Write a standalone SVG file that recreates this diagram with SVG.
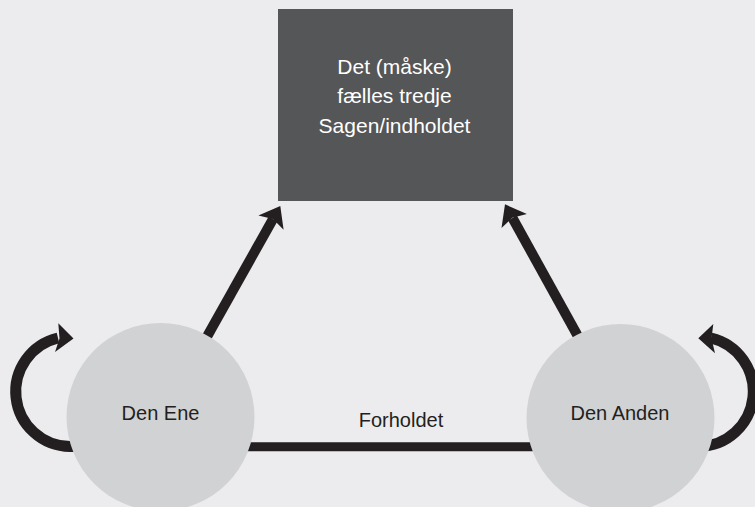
<svg xmlns="http://www.w3.org/2000/svg" width="755" height="507" viewBox="0 0 755 507">
  <style>
    .lbl { font-family: "Liberation Sans", Arial, sans-serif; font-size: 20px; fill: #231f20; text-anchor: middle; }
    .box-lbl { font-family: "Liberation Sans", Arial, sans-serif; font-size: 21px; fill: #ffffff; text-anchor: middle; }
    .shaft { fill: none; stroke: #231f20; stroke-linecap: butt; }
    .head { fill: #231f20; stroke: none; }
    .circ { fill: #d1d2d4; }
  </style>
  <rect x="0" y="0" width="755" height="507" fill="#ececee"/>

  <g id="connectors">
    <!-- relation line between the two circles -->
    <line class="shaft" x1="160" y1="446.7" x2="620" y2="446.7" stroke-width="9"/>
    <!-- left to box -->
    <line class="shaft" x1="195" y1="358" x2="273" y2="219" stroke-width="10"/>
    <polygon class="head" points="280.3,206 283.6,229.7 273,219.1 258.4,215.5"/>
    <!-- right to box -->
    <line class="shaft" x1="590" y1="358" x2="512.5" y2="218" stroke-width="10"/>
    <polygon class="head" points="505,204.3 526.9,214 512.3,217.7 501.5,228"/>
    <!-- left self loop -->
    <path class="shaft" d="M 82 446.5 L 70 446.5 A 55 55 0 0 1 58 338" stroke-width="11"/>
    <polygon class="head" points="73.5,338.5 58.3,323.3 59.5,338.5 55,352"/>
    <!-- right self loop -->
    <path class="shaft" d="M 688 446.5 L 699 446.5 A 55 55 0 0 0 711 338" stroke-width="11"/>
    <polygon class="head" points="698.3,338.3 713.3,324 711.5,338.5 715,353.3"/>
  </g>

  <g id="node-box">
    <rect x="278" y="9" width="235" height="192" fill="#555658"/>
    <text class="box-lbl" x="394.5" y="74">Det (måske)</text>
    <text class="box-lbl" x="394.5" y="103.3">fælles tredje</text>
    <text class="box-lbl" x="394.5" y="132.5">Sagen/indholdet</text>
  </g>

  <g id="node-den-ene">
    <circle class="circ" cx="160.5" cy="417" r="94"/>
    <text class="lbl" x="160.5" y="420">Den Ene</text>
  </g>

  <g id="node-den-anden">
    <circle class="circ" cx="620.5" cy="418" r="94"/>
    <text class="lbl" x="620" y="420">Den Anden</text>
  </g>

  <g id="label-forholdet">
    <text class="lbl" x="401" y="426.5">Forholdet</text>
  </g>
</svg>
